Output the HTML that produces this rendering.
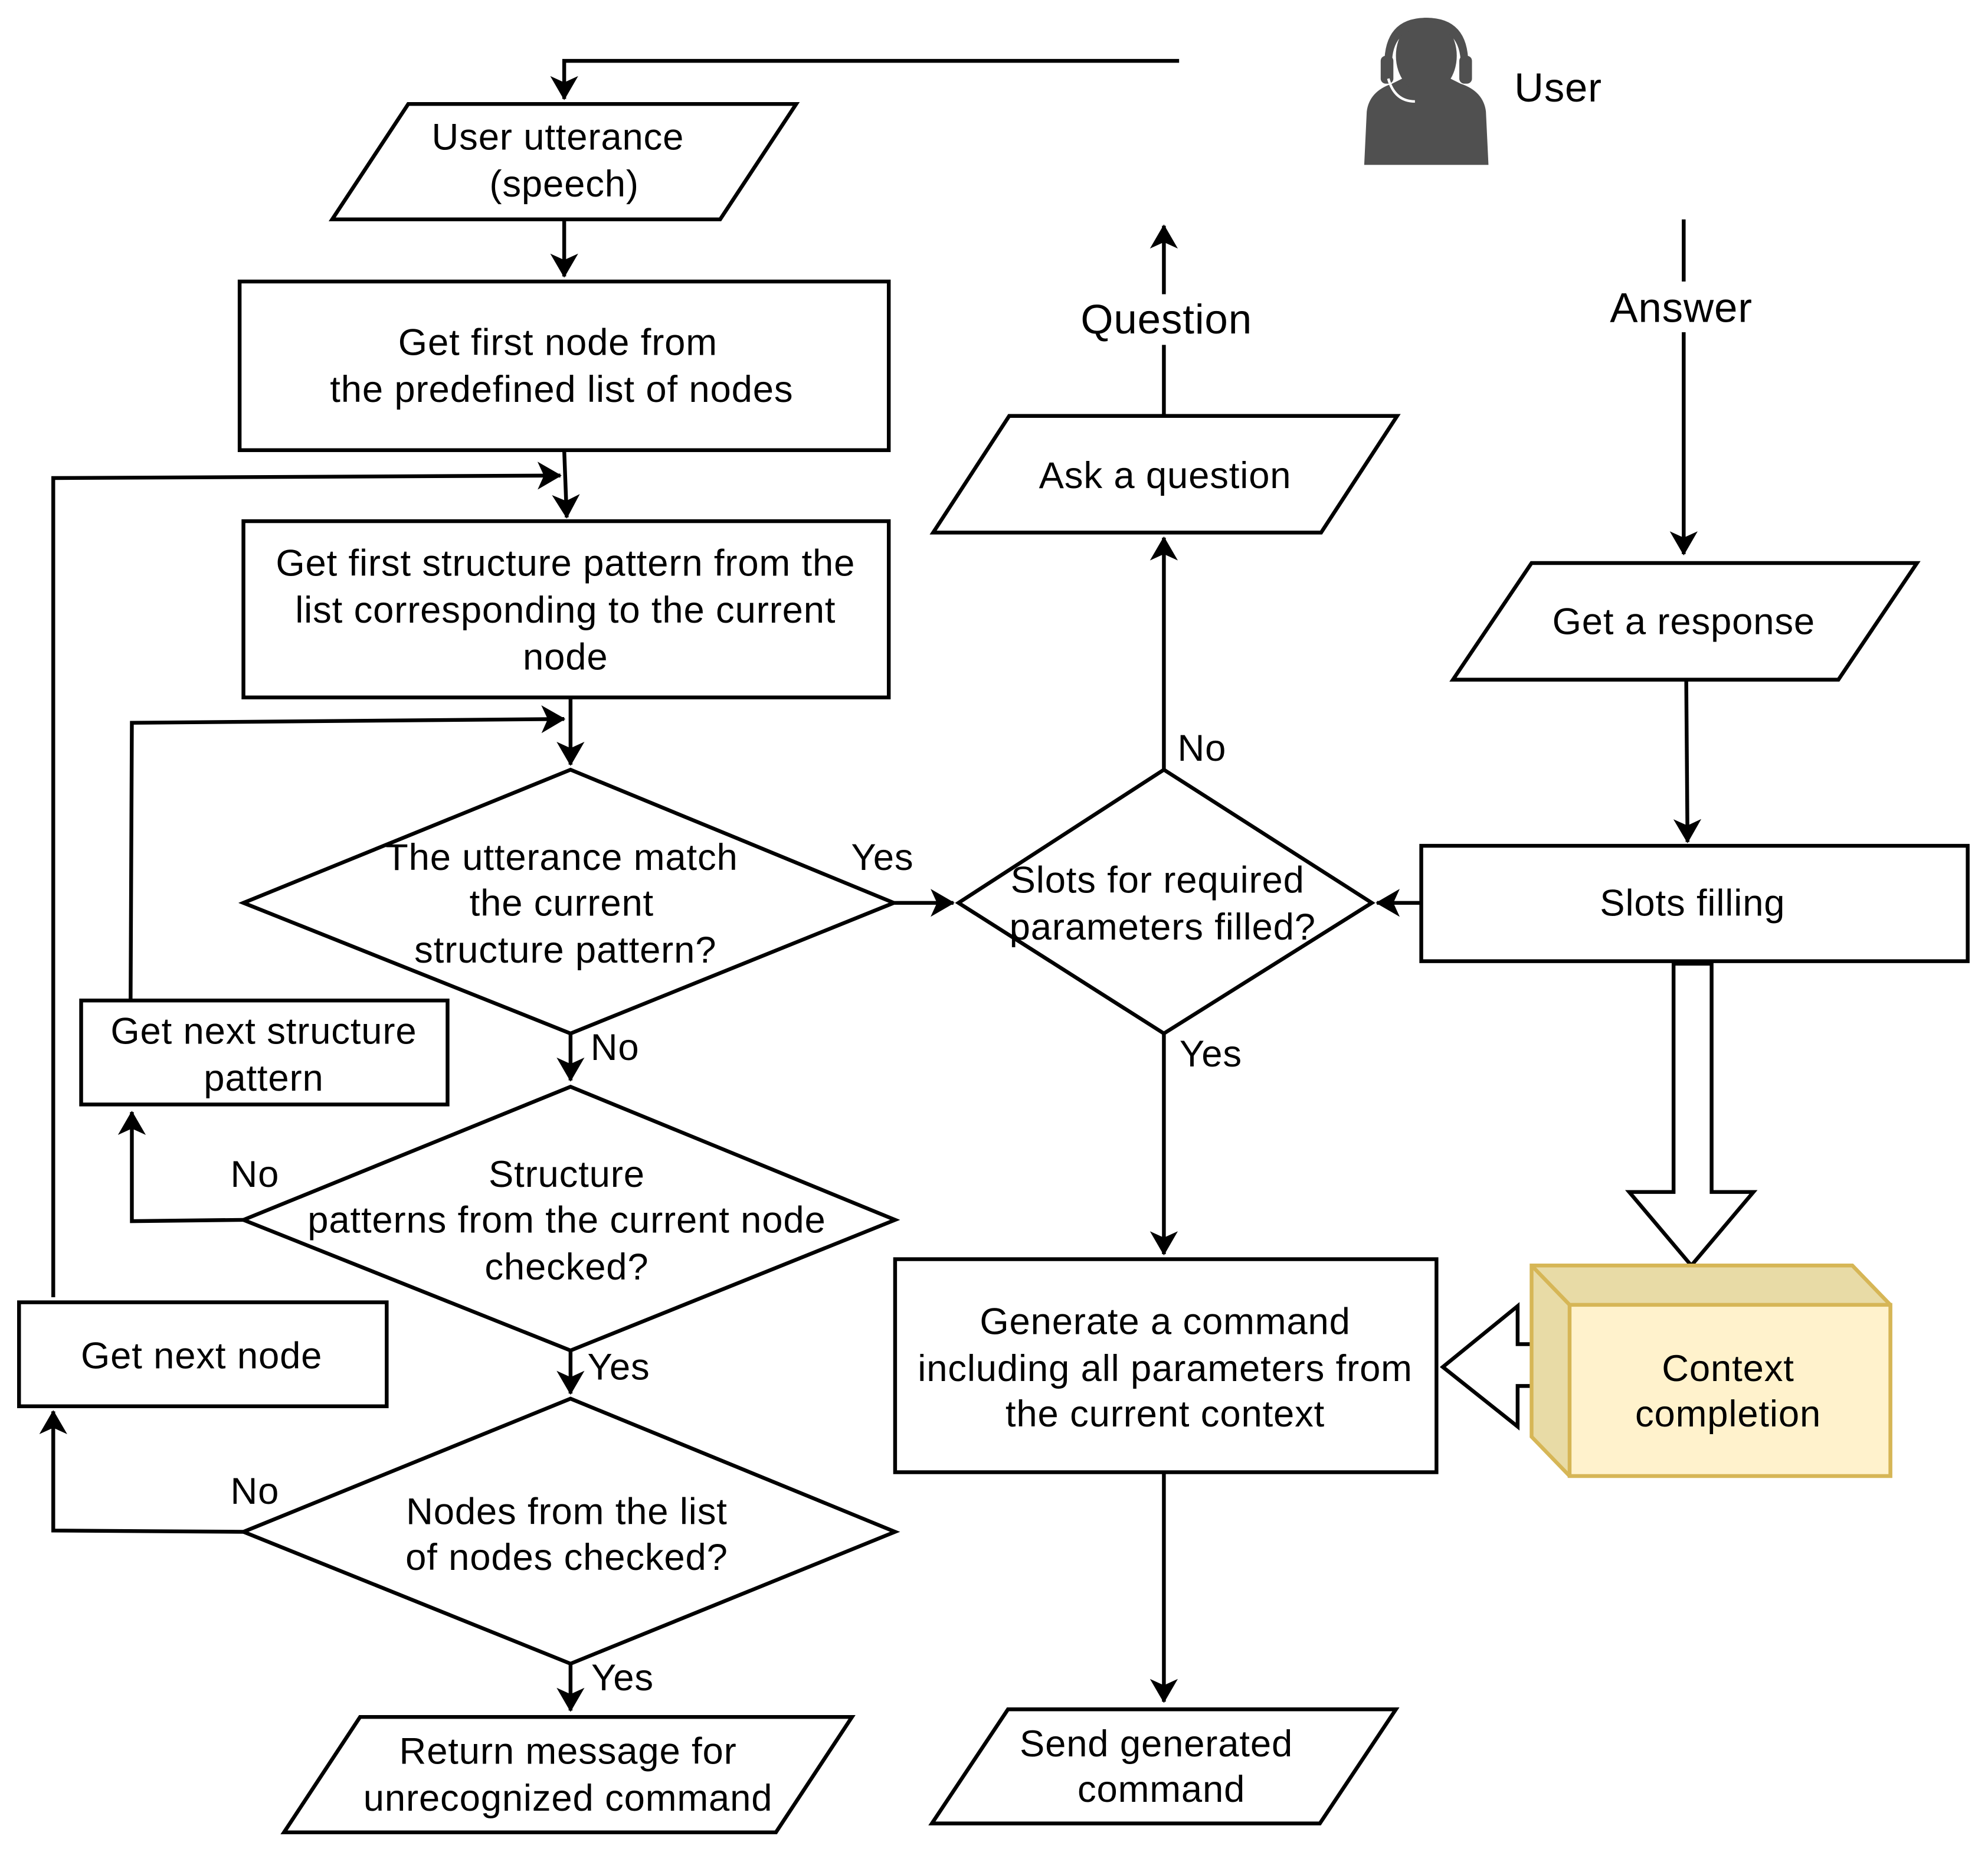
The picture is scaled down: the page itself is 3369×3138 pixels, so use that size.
<!DOCTYPE html>
<html><head><meta charset="utf-8"><style>html,body{margin:0;padding:0;background:#fff}svg{display:block}text{font-family:"Liberation Sans",sans-serif;font-size:29.5px;letter-spacing:0.4px;fill:#000;text-anchor:middle}</style></head>
<body>
<svg width="3369" height="3138" viewBox="0 0 1568 1460.5" xmlns="http://www.w3.org/2000/svg">
<defs>
<marker id="a" viewBox="0 0 10 10" refX="9" refY="5" markerWidth="10" markerHeight="10" markerUnits="userSpaceOnUse" orient="auto" overflow="visible">
<path d="M-9,-6 L10,5 L-9,16 L-4,5 Z" fill="#000"/>
</marker>
</defs>
<g stroke="#000" stroke-width="3" fill="none">
<polyline points="930,48 445,48 445,78" marker-end="url(#a)"/>
<line x1="445" y1="173" x2="445" y2="218" marker-end="url(#a)"/>
<line x1="445" y1="355" x2="447" y2="408" marker-end="url(#a)"/>
<polyline points="42,1023 42,377 442,375" marker-end="url(#a)"/>
<line x1="450" y1="550" x2="450" y2="603" marker-end="url(#a)"/>
<polyline points="103,788 104,570 445,567" marker-end="url(#a)"/>
<line x1="705" y1="712" x2="752" y2="712" marker-end="url(#a)"/>
<line x1="918" y1="607" x2="918" y2="424" marker-end="url(#a)"/>
<line x1="918" y1="328" x2="918" y2="272"/>
<line x1="918" y1="232" x2="918" y2="178" marker-end="url(#a)"/>
<line x1="1328" y1="173" x2="1328" y2="222"/>
<line x1="1328" y1="262" x2="1328" y2="437" marker-end="url(#a)"/>
<line x1="1330" y1="536" x2="1331" y2="664" marker-end="url(#a)"/>
<line x1="1121" y1="712" x2="1086" y2="712" marker-end="url(#a)"/>
<line x1="918" y1="815" x2="918" y2="989" marker-end="url(#a)"/>
<line x1="918" y1="1161" x2="918" y2="1342" marker-end="url(#a)"/>
<line x1="450" y1="815" x2="450" y2="852" marker-end="url(#a)"/>
<polyline points="192,962 104,963 104,877" marker-end="url(#a)"/>
<line x1="450" y1="1065" x2="450" y2="1099" marker-end="url(#a)"/>
<polyline points="192,1208 42,1207 42,1113" marker-end="url(#a)"/>
<line x1="450" y1="1312" x2="450" y2="1349" marker-end="url(#a)"/>
<polygon points="262,173 322,82 628,82 568,173" fill="#fff"/>
<rect x="189" y="222" width="512" height="133" fill="#fff"/>
<rect x="192" y="411" width="509" height="139" fill="#fff"/>
<polygon points="192,712 450,607 705,712 450,815" fill="#fff"/>
<polygon points="756,712 918,607 1082,712 918,815" fill="#fff"/>
<polygon points="736,420 796,328 1102,328 1042,420" fill="#fff"/>
<polygon points="1146,536 1208,444 1512,444 1450,536" fill="#fff"/>
<rect x="1121" y="667" width="431" height="91" fill="#fff"/>
<polygon points="1320,760 1350,760 1350,940 1383,940 1334,998 1285,940 1320,940" fill="#fff"/>
<rect x="706" y="993" width="427" height="168" fill="#fff"/>
<polygon points="1222,1060 1197,1060 1197,1030 1138,1078 1197,1125 1197,1093 1222,1093" fill="#fff"/>
<polygon points="735,1438 795,1348 1101,1348 1041,1438" fill="#fff"/>
<rect x="64" y="789" width="289" height="82" fill="#fff"/>
<polygon points="192,962 450,857 706,962 450,1065" fill="#fff"/>
<rect x="15" y="1027" width="290" height="82" fill="#fff"/>
<polygon points="192,1208 450,1103 706,1208 450,1312" fill="#fff"/>
<polygon points="224,1445 284,1354 672,1354 612,1445" fill="#fff"/>
</g>
<g stroke="#d6b656" stroke-width="3">
<polygon points="1208,998 1461,998 1491,1029 1491,1164 1238,1164 1208,1133" fill="#e8dba6"/>
<rect x="1238" y="1029" width="253" height="135" fill="#fff2cc"/>
<polyline points="1208,998 1238,1029" fill="none"/>
</g>
<g fill="#505050">
<path d="M1076,130 L1078,88 Q1080,72 1098,66 L1110,60 Q1124,74 1140,60 L1152,66 Q1170,72 1172,88 L1174,130 Z"/>
<ellipse cx="1125" cy="44" rx="24" ry="30"/>
<path d="M1092,55 Q1090,14 1125,14 Q1160,14 1158,55 L1152,55 Q1154,22 1125,22 Q1096,22 1098,55 Z"/>
<rect x="1089" y="44" width="10" height="22" rx="4"/>
<rect x="1151" y="44" width="10" height="22" rx="4"/>
<rect x="1114" y="77" width="20" height="6" rx="3"/>
</g>
<path d="M1095,62 Q1100,80 1116,80" stroke="#fff" stroke-width="2" fill="none"/>
<text x="440" y="118">User utterance</text><text x="445" y="155">(speech)</text>
<text x="440" y="280">Get first node from</text><text x="443" y="317">the predefined list of nodes</text>
<text x="446" y="454">Get first structure pattern from the</text><text x="446" y="491">list corresponding to the current</text><text x="446" y="528">node</text>
<text x="443" y="686">The utterance match</text><text x="443" y="722">the current</text><text x="446" y="759">structure pattern?</text>
<text x="696" y="686">Yes</text>
<text x="913" y="704">Slots for required</text><text x="917" y="741">parameters filled?</text>
<text x="948" y="600">No</text>
<text x="919" y="385">Ask a question</text>
<text x="920" y="263" style="font-size:33px">Question</text>
<text x="1326" y="254" style="font-size:33px">Answer</text>
<text x="1229" y="80" style="font-size:32px">User</text>
<text x="1328" y="500">Get a response</text>
<text x="1335" y="722">Slots filling</text>
<text x="955" y="841">Yes</text>
<text x="919" y="1052">Generate a command</text><text x="919" y="1089">including all parameters from</text><text x="919" y="1125">the current context</text>
<text x="1363" y="1089">Context</text><text x="1363" y="1125">completion</text>
<text x="912" y="1385">Send generated</text><text x="916" y="1421">command</text>
<text x="485" y="836">No</text>
<text x="208" y="823">Get next structure</text><text x="208" y="860">pattern</text>
<text x="447" y="936">Structure</text><text x="447" y="972">patterns from the current node</text><text x="447" y="1009">checked?</text>
<text x="201" y="936">No</text>
<text x="488" y="1088">Yes</text>
<text x="159" y="1079">Get next node</text>
<text x="447" y="1202">Nodes from the list</text><text x="447" y="1238">of nodes checked?</text>
<text x="201" y="1186">No</text>
<text x="491" y="1333">Yes</text>
<text x="448" y="1391">Return message for</text><text x="448" y="1428">unrecognized command</text>
</svg>
</body></html>
